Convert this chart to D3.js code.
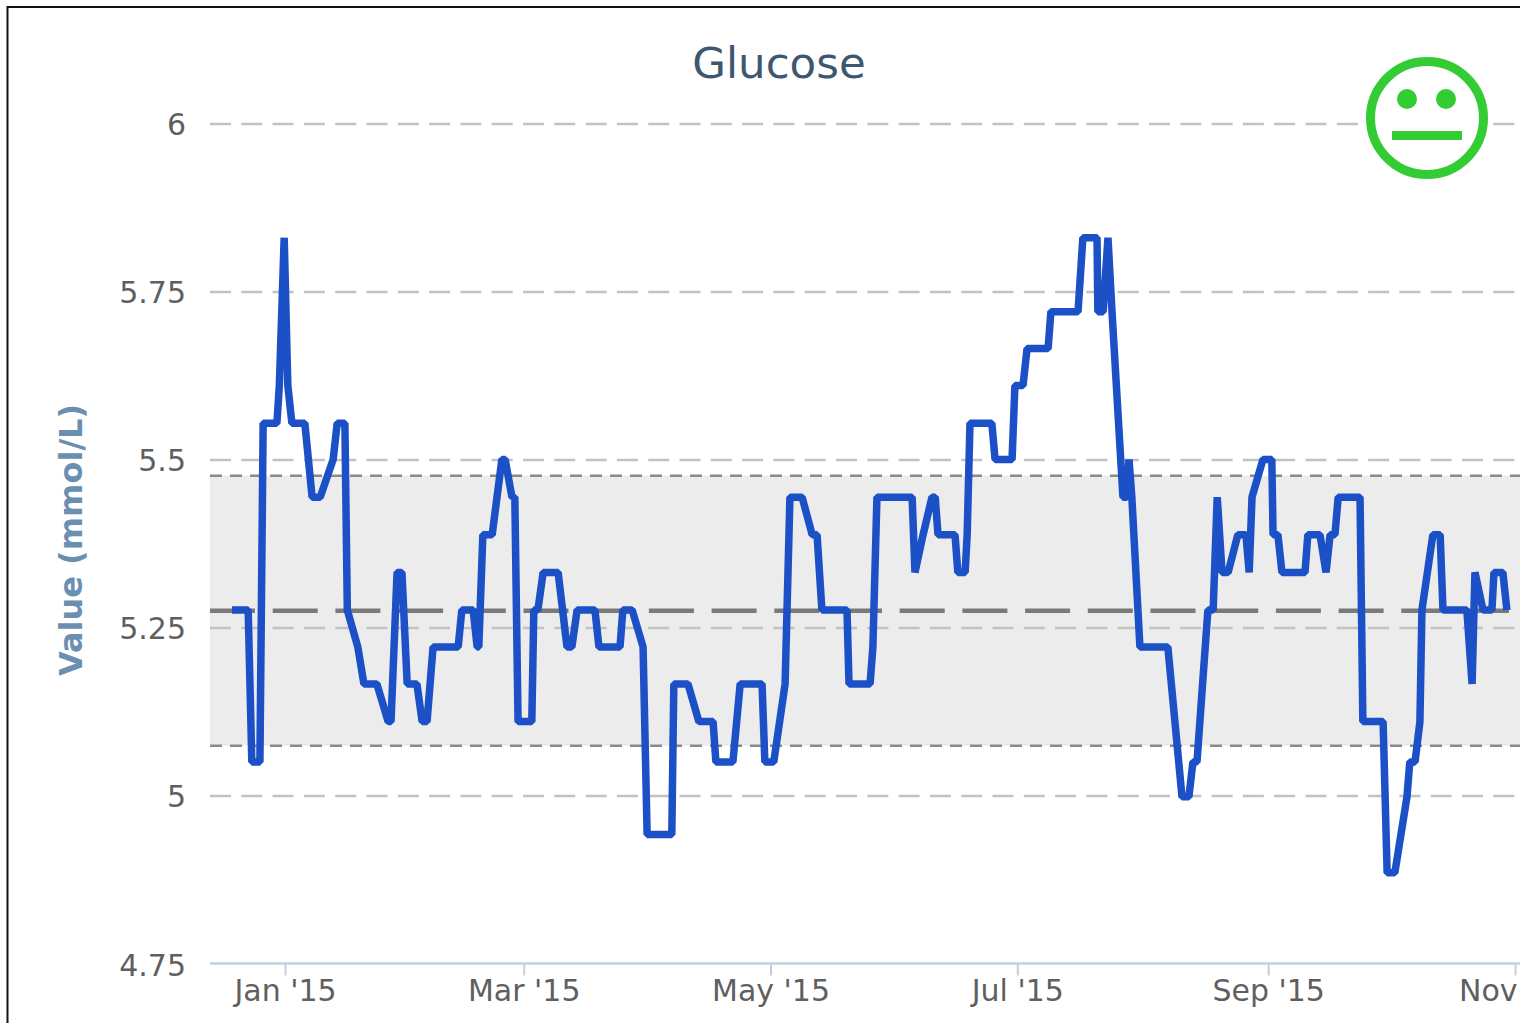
<!DOCTYPE html>
<html>
<head>
<meta charset="utf-8">
<script src="https://cdnjs.cloudflare.com/ajax/libs/d3/7.8.5/d3.min.js"></script>
<style>
	html, body { margin: 0; padding: 0; background: #fff; overflow: hidden; }
	svg text { font-family: "DejaVu Sans", sans-serif; }
</style>
</head>
<body>
<div id="chart"></div>
<script>
// days since 1 Jan 2015
const days = [-13.1, -9.1, -8.2, -6.2, -5.4, -2.0, -1.4, -0.2, 0.7, 1.7, 4.9, 6.7, 8.7, 11.9, 12.9, 14.8, 15.4, 18.0, 19.5, 22.7,
	25.5, 26.2, 27.7, 28.9, 30.2, 32.6, 33.9, 35.1, 36.6, 42.8, 43.7, 46.5, 47.5, 47.9, 48.9, 51.2, 53.6, 54.4, 56.1, 56.8,
	57.6, 61.0, 61.5, 62.5, 63.8, 67.5, 69.7, 70.9, 72.2, 76.6, 77.6, 82.8, 83.5, 85.8, 88.5, 89.5, 95.6, 96.1, 99.6, 102.3,
	105.8, 106.5, 110.7, 112.5, 117.9, 118.6, 120.8, 123.6, 124.8, 125.3, 127.8, 130.3, 131.5, 132.7, 138.9, 139.4, 144.6, 145.3, 146.3, 155.0,
	155.7, 157.7, 159.9, 160.7, 161.4, 165.6, 166.3, 168.1, 168.6, 169.3, 174.7, 175.5, 179.7, 180.4, 182.4, 183.4, 188.6, 189.3, 196.0, 197.2,
	200.7, 200.9, 202.2, 203.4, 204.4, 207.1, 208.1, 208.6, 209.3, 211.3, 218.2, 221.7, 223.4, 224.4, 225.4, 228.1, 229.4, 230.4, 231.6, 233.1,
	235.5, 237.5, 238.3, 239.0, 241.7, 243.9, 244.2, 245.4, 246.4, 252.1, 252.8, 255.8, 257.3, 258.3, 259.5, 260.3, 265.7, 266.4, 271.4, 272.4,
	274.3, 277.3, 278.0, 279.3, 280.5, 281.0, 283.7, 285.5, 286.2, 292.1, 293.4, 294.1, 296.1, 298.3, 298.8, 301.0, 302.0];
const glucose = [5.276, 5.276, 5.05, 5.05, 5.554, 5.554, 5.61, 5.83, 5.61, 5.554, 5.554, 5.444, 5.444, 5.5, 5.554, 5.554, 5.276, 5.221, 5.166, 5.166,
	5.11, 5.11, 5.332, 5.332, 5.166, 5.166, 5.11, 5.11, 5.221, 5.221, 5.276, 5.276, 5.221, 5.221, 5.388, 5.388, 5.5, 5.5, 5.444, 5.444,
	5.11, 5.11, 5.276, 5.276, 5.332, 5.332, 5.221, 5.221, 5.276, 5.276, 5.221, 5.221, 5.276, 5.276, 5.221, 4.942, 4.942, 5.166, 5.166, 5.11,
	5.11, 5.05, 5.05, 5.166, 5.166, 5.05, 5.05, 5.166, 5.444, 5.444, 5.444, 5.388, 5.388, 5.276, 5.276, 5.166, 5.166, 5.221, 5.444, 5.444,
	5.332, 5.388, 5.444, 5.444, 5.388, 5.388, 5.332, 5.332, 5.388, 5.554, 5.554, 5.5, 5.5, 5.61, 5.61, 5.665, 5.665, 5.72, 5.72, 5.83,
	5.83, 5.72, 5.72, 5.83, 5.72, 5.444, 5.444, 5.5, 5.444, 5.221, 5.221, 4.998, 4.998, 5.05, 5.05, 5.276, 5.276, 5.444, 5.332, 5.332,
	5.388, 5.388, 5.332, 5.444, 5.5, 5.5, 5.388, 5.388, 5.332, 5.332, 5.388, 5.388, 5.332, 5.388, 5.388, 5.444, 5.444, 5.11, 5.11, 4.885,
	4.885, 4.998, 5.05, 5.05, 5.11, 5.276, 5.388, 5.388, 5.276, 5.276, 5.166, 5.332, 5.276, 5.276, 5.332, 5.332, 5.276];
const monthTicks = [0, 59, 120, 181, 243, 304];
const monthLabels = ["Jan '15", "Mar '15", "May '15", "Jul '15", "Sep '15", "Nov"];
const valueTicks = [4.75, 5, 5.25, 5.5, 5.75, 6];
const normalRange = [5.074, 5.476];
const meanValue = 5.275;

const width = 1520;
const height = 1023;
const plotLeft = 210;
const plotRight = 1520;

const xScale = d3.scaleLinear().domain([0, 304]).range([285, 1515]);
const yScale = d3.scaleLinear().domain([4.75, 6]).range([963.5, 123.5]);

const svg = d3.select("#chart").append("svg")
	.attr("width", width)
	.attr("height", height)
	.style("display", "block");

svg.append("rect").attr("width", width).attr("height", height).attr("fill", "#fff");

/* normal range band */
svg.append("rect")
	.attr("x", plotLeft)
	.attr("y", yScale(normalRange[1]))
	.attr("width", plotRight - plotLeft)
	.attr("height", yScale(normalRange[0]) - yScale(normalRange[1]))
	.attr("fill", "#ececec");

/* y axis + grid */
const yAxis = d3.axisLeft(yScale)
	.tickValues(valueTicks.slice(1))
	.tickSize(-(plotRight - plotLeft))
	.tickPadding(24)
	.tickFormat(d => d);
const yG = svg.append("g")
	.attr("transform", `translate(${plotLeft},0)`)
	.call(yAxis);
yG.select(".domain").remove();
yG.selectAll(".tick line")
	.attr("stroke", "#c2c2c2")
	.attr("stroke-width", 2.5)
	.attr("stroke-dasharray", "21,10.3");
yG.selectAll(".tick text")
	.attr("fill", "#5f5f5f")
	.attr("y", 1)
	.style("font-size", "30px");

// 4.75 sits on the x axis so it only needs its label
svg.append("text")
	.attr("x", 186)
	.attr("y", yScale(4.75) + 12)
	.attr("text-anchor", "end")
	.attr("fill", "#5f5f5f")
	.style("font-size", "30px")
	.text("4.75");

/* limits and mean */
svg.selectAll(".limit")
	.data(normalRange)
	.enter()
	.append("line")
	.attr("class", "limit")
	.attr("x1", plotLeft)
	.attr("x2", plotRight)
	.attr("y1", d => yScale(d))
	.attr("y2", d => yScale(d))
	.attr("stroke", "#8a8a8a")
	.attr("stroke-width", 2.5)
	.attr("stroke-dasharray", "12,8");

svg.append("line")
	.attr("x1", plotLeft)
	.attr("x2", plotRight)
	.attr("y1", yScale(meanValue))
	.attr("y2", yScale(meanValue))
	.attr("stroke", "#7a7a7a")
	.attr("stroke-width", 4.5)
	.attr("stroke-dasharray", "45,17.7");

/* x axis */
const xAxis = d3.axisBottom(xScale)
	.tickValues(monthTicks)
	.tickSize(12)
	.tickPadding(4)
	.tickFormat((d, i) => monthLabels[i]);
const xG = svg.append("g")
	.attr("transform", `translate(0,${yScale(4.75)})`)
	.call(xAxis);
xG.select(".domain").remove();
xG.selectAll(".tick line").attr("stroke", "#c0d0e0").attr("stroke-width", 2);
xG.selectAll(".tick text")
	.attr("fill", "#5f5f5f")
	.style("font-size", "30px");
xG.selectAll(".tick:last-child text")
	.attr("text-anchor", "end")
	.attr("x", 2);
svg.append("line")
	.attr("x1", plotLeft)
	.attr("x2", plotRight)
	.attr("y1", yScale(4.75))
	.attr("y2", yScale(4.75))
	.attr("stroke", "#c0d0e0")
	.attr("stroke-width", 2.5);

/* series */
const line = d3.line()
	.x(d => xScale(d[0]))
	.y(d => yScale(d[1]));
svg.append("path")
	.datum(d3.zip(days, glucose))
	.attr("d", line)
	.attr("fill", "none")
	.attr("stroke", "#1b50c6")
	.attr("stroke-width", 7.5)
	.attr("stroke-linejoin", "bevel");

/* titles */
svg.append("text")
	.attr("x", 779)
	.attr("y", 78)
	.attr("text-anchor", "middle")
	.attr("fill", "#3e5770")
	.style("font-size", "43.5px")
	.text("Glucose");

svg.append("text")
	.attr("transform", "translate(82,540) rotate(-90)")
	.attr("text-anchor", "middle")
	.attr("fill", "#6a8fb0")
	.style("font-size", "32px")
	.style("font-weight", "bold")
	.text("Value (mmol/L)");

/* status face */
const face = svg.append("g").attr("transform", "translate(1427,118)");
face.append("circle")
	.attr("r", 56.5)
	.attr("fill", "#fff")
	.attr("stroke", "#33cc33")
	.attr("stroke-width", 9);
face.selectAll(".eye")
	.data([-20, 19])
	.enter()
	.append("circle")
	.attr("class", "eye")
	.attr("cx", d => d)
	.attr("cy", -19)
	.attr("r", 10)
	.attr("fill", "#33cc33");
face.append("rect")
	.attr("x", -35)
	.attr("y", 13)
	.attr("width", 70)
	.attr("height", 9)
	.attr("fill", "#33cc33");

/* outer frame */
svg.append("rect")
	.attr("x", 7.5)
	.attr("y", 7)
	.attr("width", width + 20)
	.attr("height", height + 20)
	.attr("fill", "none")
	.attr("stroke", "#111")
	.attr("stroke-width", 2);
</script>
</body>
</html>
